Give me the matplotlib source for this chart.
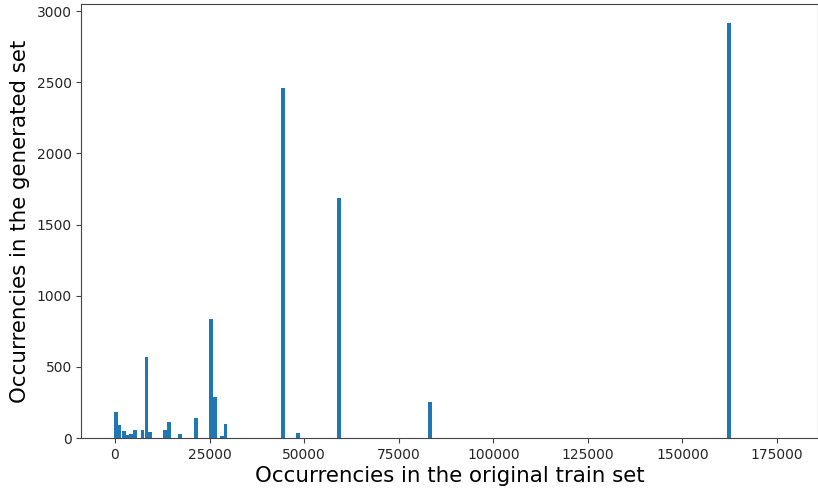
import matplotlib
matplotlib.use("Agg")
import matplotlib.pyplot as plt

# Number of times each item occurs in the original training set
train_counts = [200, 1150, 2300, 3350, 4250, 5200, 7300, 8350, 9270,
                13300, 14350, 17200, 21330, 25370, 26430, 28200, 29230,
                44490, 48300, 59280, 83260, 162370]
# Number of times the same item occurs in the generated set
generated_counts = [185, 91, 49, 18, 26, 56, 56, 567, 45,
                    59, 112, 27, 140, 834, 288, 16, 101,
                    2460, 33, 1685, 251, 2914]

fig = plt.figure(figsize=(8.18, 4.90), dpi=100)
ax = fig.add_axes([0.0996, 0.106, 0.8998, 0.8858])

ax.bar(train_counts, generated_counts, width=1000, color="#1f77b4")

ax.set_xlim(-8850, 185700)
ax.set_ylim(0, 3050)
ax.set_xticks([0, 25000, 50000, 75000, 100000, 125000, 150000, 175000])
ax.set_yticks([0, 500, 1000, 1500, 2000, 2500, 3000])
ax.tick_params(labelsize=10, labelcolor="#262626", color="#444444")
for spine in ax.spines.values():
    spine.set_color("#444444")

ax.set_xlabel("Occurrencies in the original train set", fontsize=15.4, labelpad=3)
ax.set_ylabel("Occurrencies in the generated set", fontsize=15.4, labelpad=5)

fig.savefig("out.png", dpi=100)
